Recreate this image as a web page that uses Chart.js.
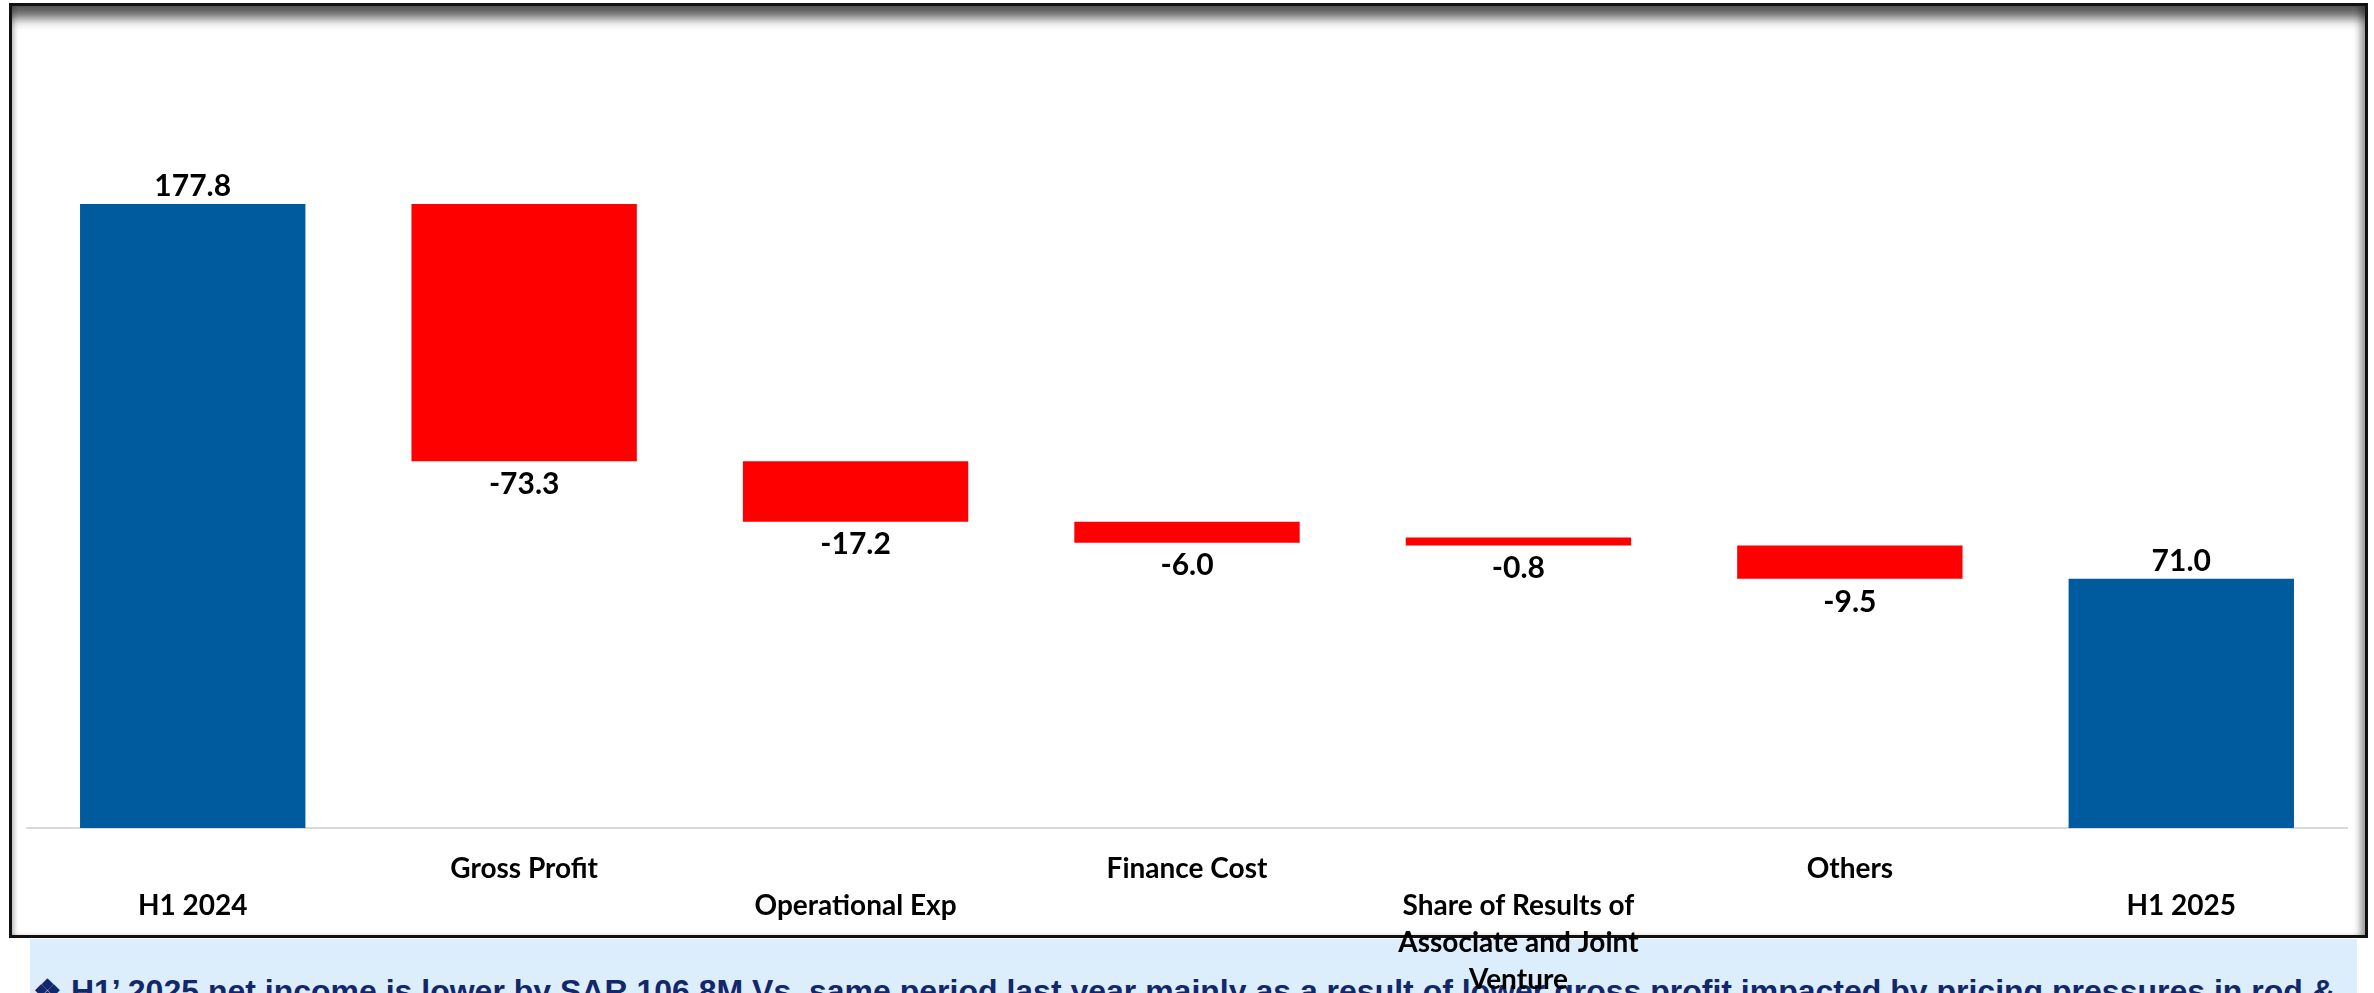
<!DOCTYPE html>
<html>
<head>
<meta charset="utf-8">
<title>H1 Net Income Bridge</title>
<script src="https://cdn.jsdelivr.net/npm/chart.js@4.4.1/dist/chart.umd.min.js"></script>
<style>
  html, body {
    margin: 0;
    padding: 0;
    background: #ffffff;
    width: 2374px;
    height: 993px;
    overflow: hidden;
  }
  .frame {
    position: absolute;
    left: 9px;
    top: 3px;
    width: 2359px;
    height: 935px;
    box-sizing: border-box;
    border: 3px solid #111;
    background: #fff;
    box-shadow: inset 0 18px 12px -6px rgba(0, 0, 0, 0.65),
                inset -8px 0 7px -3px rgba(0, 0, 0, 0.35),
                inset 5px 0 5px -3px rgba(0, 0, 0, 0.2);
  }
  .note {
    position: absolute;
    left: 30px;
    top: 939px;
    width: 2327px;
    height: 54px;
    background: #dcedfc;
    overflow: hidden;
  }
  .note span {
    position: absolute;
    left: 3px;
    top: 36px;
    font-family: "Liberation Sans", Arial, sans-serif;
    font-weight: bold;
    font-size: 32px;
    line-height: 32px;
    color: #13286b;
    white-space: nowrap;
  }
  #chart {
    position: absolute;
    left: 0;
    top: 0;
  }
</style>
</head>
<body>
<div class="frame"></div>
<div class="note"><span>❖ H1’ 2025 net income is lower by SAR 106.8M Vs. same period last year mainly as a result of lower gross profit impacted by pricing pressures in rod &amp;</span></div>
<canvas id="chart" width="2374" height="993"></canvas>

<script>
// Bridge steps, SAR M
const categories = [
  ['H1 2024'],
  ['Gross Profit'],
  ['Operational Exp'],
  ['Finance Cost'],
  ['Share of Results of', 'Associate and Joint', 'Venture'],
  ['Others'],
  ['H1 2025']
];
const stepValues = [177.8, -73.3, -17.2, -6.0, -0.8, -9.5, 71.0];
const isTotal = [true, false, false, false, false, false, true];

// Labels alternate between two rows under the axis
const tickRow = [1, 0, 1, 0, 1, 0, 1];

const BLUE = '#005a9e';
const RED = '#ff0000';

// floating bar ranges: totals start at zero, changes hang off the running total
let running = 0;
const ranges = stepValues.map((v, i) => {
  if (isTotal[i]) {
    running = v;
    return [0, v];
  }
  const from = running;
  running = +(running + v).toFixed(1);
  return [running, from];
});

const tickLabels = categories.map((lines, i) => tickRow[i] ? [''].concat(lines) : lines);

const valueLabels = {
  id: 'valueLabels',
  afterDatasetsDraw(chart) {
    const ctx = chart.ctx;
    const meta = chart.getDatasetMeta(0);
    ctx.save();
    ctx.font = 'bold 30px Lato';
    ctx.fillStyle = '#000';
    ctx.textAlign = 'center';
    meta.data.forEach((bar, i) => {
      const top = Math.min(bar.y, bar.base);
      const bottom = Math.max(bar.y, bar.base);
      const text = stepValues[i].toFixed(1);
      if (stepValues[i] >= 0) {
        ctx.textBaseline = 'bottom';
        ctx.fillText(text, bar.x, top - 3);
      } else {
        ctx.textBaseline = 'top';
        ctx.fillText(text, bar.x, bottom + 8);
      }
    });
    ctx.restore();
  }
};

new Chart(document.getElementById('chart').getContext('2d'), {
  type: 'bar',
  data: {
    labels: tickLabels,
    datasets: [{
      data: ranges,
      backgroundColor: isTotal.map(t => t ? BLUE : RED),
      borderWidth: 0,
      borderSkipped: false,
      categoryPercentage: 1,
      barPercentage: 0.68,
      minBarLength: 8
    }]
  },
  options: {
    responsive: false,
    animation: false,
    layout: {
      padding: { left: 27, right: 27, top: 56, bottom: 0 }
    },
    plugins: {
      legend: { display: false },
      tooltip: { enabled: false }
    },
    scales: {
      x: {
        grid: { display: false, drawTicks: false },
        border: { display: true, color: '#d9d9d9', width: 2 },
        ticks: {
          color: '#000',
          font: { family: 'Lato', weight: 'bold', size: 28, lineHeight: '37px' },
          padding: 22,
          maxRotation: 0,
          autoSkip: false
        },
        afterFit(scale) {
          scale.height = 165;
        }
      },
      y: {
        display: false,
        min: 0,
        max: 220
      }
    }
  },
  plugins: [valueLabels]
});
</script>
</body>
</html>
